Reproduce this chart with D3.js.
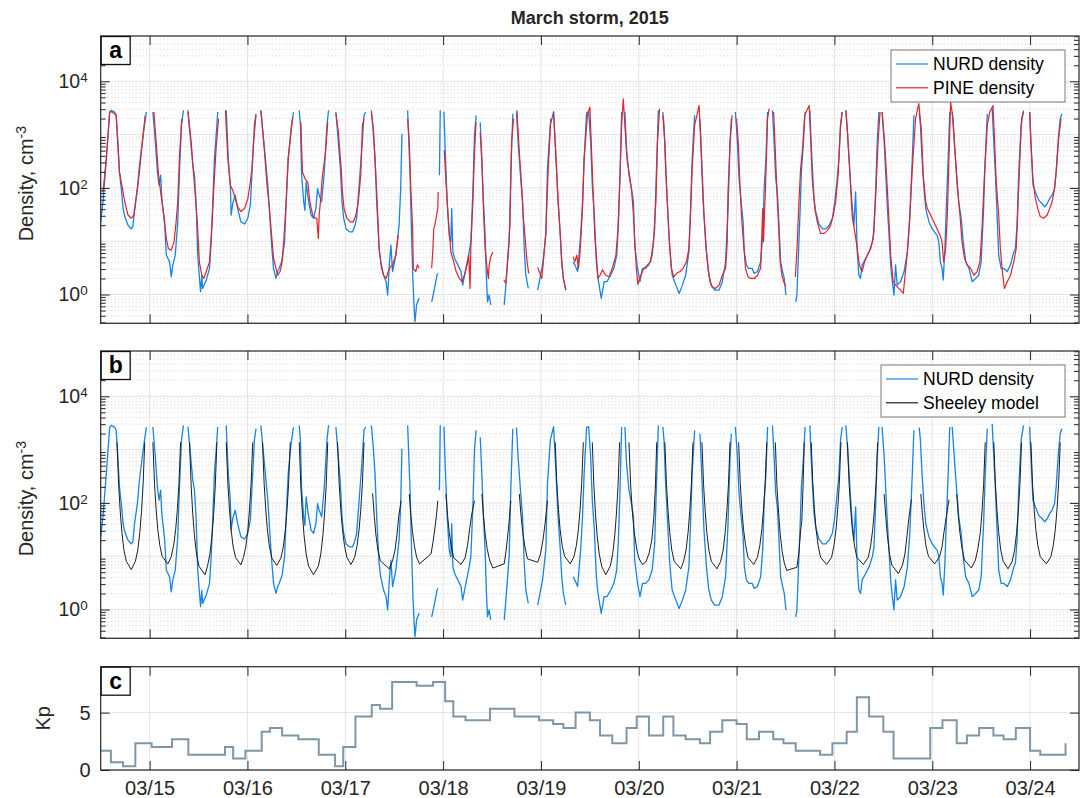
<!DOCTYPE html>
<html>
<head>
<meta charset="utf-8">
<script src="https://cdn.jsdelivr.net/npm/d3@7"></script>
<style>
  body { margin: 0; background: #fff; }
  text { font-family: "Liberation Sans", Arial, Helvetica, sans-serif; fill: #262626; }
</style>
</head>
<body>
<script>
// Time base: hours counted from 2015-03-14 12:00 UT.
const t0 = Date.UTC(2015, 2, 14, 12);
const spanHours = 240;

// NURD density, [hour, cm^-3]; null marks a data gap.
const nurd = [
  [0.0,23],[0.56,55],[1.38,354],[2.2,2650],[2.6,2850],[3.4,2650],[3.8,2300],[4.2,728],[4.6,200],[5.05,97],[5.5,41],[5.9,29],[6.7,20],[7.5,17],[7.9,19],[8.3,41],[9.0,97],[9.5,266],[10.4,968],[11.2,2650],null,
  [12.8,2650],[13.4,728],[13.9,200],[14.3,112],[14.7,173],[15.0,63],[15.7,20],[16.1,5.5],[16.9,4.1],[17.3,2.15],[17.7,3.6],[18.3,5.5],[18.9,23],[19.3,173],[19.8,1490],[20.3,2850],null,
  [21.4,2700],[22.0,839],[22.6,266],[23.0,173],[23.4,55],[23.8,5.5],[24.1,2.7],[24.5,1.13],[24.8,2.3],[25.0,1.3],[25.9,1.87],[26.7,3.1],[27.1,9.7],[27.5,55],[27.9,354],[28.5,1490],[28.7,2650],null,
  [30.8,2850],[31.3,354],[31.8,112],[32.0,31],[32.4,51],[33.0,73],[33.6,41],[34.4,23],[35.3,21],[36.1,27],[36.7,47],[37.3,354],[37.7,1490],[38.1,2470],null,
  [39.3,2850],[39.7,1290],[40.4,354],[41.0,112],[41.5,27],[42.0,7.3],[42.4,3.1],[43.0,2.0],[43.4,2.7],[43.8,3.1],[44.5,4.4],[45.1,9.7],[45.5,55],[46.0,354],[46.7,1290],[47.3,2650],null,
  [48.7,2850],[49.0,1490],[49.3,173],[49.8,55],[50.1,38],[50.4,129],[50.9,63],[51.6,31],[52.2,27],[52.8,41],[53.2,97],[53.6,73],[54.2,55],[54.8,173],[55.5,1490],[55.9,2850],null,
  [57.7,2650],[58.1,1120],[58.8,230],[59.2,55],[59.6,27],[60.2,17],[61.0,15],[61.8,15],[62.4,20],[62.8,27],[63.4,112],[64.0,472],[64.6,2300],[65.0,2650],null,
  [66.4,2850],[66.8,1290],[67.3,354],[67.7,55],[68.3,7.3],[68.7,4.1],[69.4,2.3],[70.0,1.74],[70.4,0.98],[70.8,3.6],[71.2,8.4],[71.6,2.7],[72.4,5.5],[73.2,20],[73.6,97],[73.9,1040],null,
  [75.3,2850],[75.9,173],[76.2,20],[76.6,1.74],[76.9,0.55],[77.1,0.31],[77.5,0.64],[78.1,0.85],null,
  [81.2,0.73],[81.9,1.3],[82.5,2.3],[82.7,2.5],null,
  [83.1,173],[83.3,2850],null,
  [84.2,2700],[84.5,546],[85.0,55],[85.5,13],[85.9,9.7],[86.1,41],[86.4,6.3],[86.8,4.8],[87.6,3.6],[88.4,2.7],[88.8,1.5],[89.6,3.1],[90.4,6.3],[90.8,9.7],[91.3,84],[91.7,968],[92.1,2300],null,
  [93.1,1700],[93.5,354],[93.9,55],[94.3,13],[94.6,2.3],[94.9,0.73],[95.3,0.98],[95.7,0.64],null,
  [99.0,0.64],[99.4,1.5],[100.2,9.7],[100.6,173],[101.1,2470],null,
  [102.0,2600],[102.4,728],[103.1,129],[103.5,55],[103.9,7.3],[104.3,2.3],[104.9,1.3],null,
  [107.2,1.21],[107.6,1.74],[108.4,3.6],[109.2,13],[109.6,230],[110.3,1490],[111.1,2700],[111.7,354],[112.2,55],[112.7,15],[113.1,4.1],[113.5,2.0],[114.1,1.21],null,
  [115.9,4.1],[116.3,3.6],[117.0,2.7],[117.4,6.3],[117.8,15],[118.2,55],[118.6,354],[119.2,2580],[119.7,2700],[120.2,728],[120.6,112],[121.1,31],[121.6,4.1],[122.0,2.0],[122.4,1.3],[122.8,0.85],[123.5,1.74],[124.2,1.74],[125.1,2.3],[125.9,3.1],[126.6,5.5],[127.0,20],[127.4,173],[127.8,2650],null,
  [128.6,2650],[129.0,546],[129.6,173],[130.2,97],[130.7,55],[131.0,8.4],[131.7,3.1],[132.3,1.74],[132.9,3.1],[133.7,3.1],[134.5,3.6],[135.3,5.5],[135.9,17],[136.3,173],[136.8,2850],null,
  [137.9,2650],[138.2,1490],[138.6,230],[139.0,55],[139.6,7.3],[140.2,2.3],[141.1,1.5],[141.9,1.05],[142.7,1.5],[143.5,2.3],[144.3,6.3],[144.7,41],[145.1,354],[145.7,2300],null,
  [147.0,1990],[147.2,968],[147.6,173],[148.0,31],[148.6,6.3],[149.2,2.3],[149.8,1.5],[150.6,1.21],[151.7,1.21],[152.5,1.74],[153.3,4.1],[153.9,41],[154.4,728],[154.7,1990],null,
  [155.7,2650],[156.2,728],[156.6,150],[157.1,55],[157.6,23],[157.9,6.3],[158.4,3.6],[159.0,3.1],[159.8,3.1],[160.3,2.5],[161.1,2.7],[161.9,4.1],[162.4,13],[162.8,112],[163.2,354],[163.6,2650],null,
  [164.8,2850],[165.2,728],[165.6,150],[166.0,84],[166.4,20],[166.8,4.1],[167.3,2.7],[167.7,2.0],[168.1,0.98],null,
  [170.5,0.73],[170.8,0.98],[171.1,4.1],[171.6,41],[171.9,200],[172.4,728],[172.8,2650],null,
  [174.0,2850],[174.2,968],[174.6,230],[175.0,63],[175.4,36],[176.2,21],[177.1,17],[177.9,17],[178.7,20],[179.5,27],[180.1,55],[180.6,129],[181.1,354],[181.5,1490],[181.9,2650],null,
  [182.8,2850],[183.2,1120],[183.6,354],[184.0,112],[184.4,41],[184.8,20],[185.2,84],[185.6,6.3],[186.0,2.3],[186.4,2.0],[186.8,3.6],[187.7,4.8],[188.5,6.3],[189.3,9.7],[189.7,15],[190.1,84],[190.5,728],[190.9,2650],null,
  [191.7,2650],[192.2,728],[192.6,173],[193.0,41],[193.4,13],[193.8,3.6],[194.2,1.74],[194.6,0.98],[195.0,3.6],[195.4,1.5],[196.2,1.74],[197.1,2.7],[197.9,6.3],[198.5,27],[199.1,354],[199.5,2300],null,
  [200.8,2600],[201.1,1490],[201.5,354],[201.9,112],[202.4,41],[203.2,23],[204.0,17],[204.8,14],[205.2,13],[205.6,9.7],[206.0,4.1],[206.4,3.1],[206.7,1.87],[207.1,7.3],[207.5,55],[207.9,354],[208.3,2650],null,
  [208.9,2650],[209.5,546],[210.0,173],[210.5,55],[211.1,27],[211.6,9.7],[212.2,4.1],[213.0,3.1],[213.8,1.74],[214.6,2.0],[215.4,2.3],[216.0,4.1],[216.6,41],[217.0,354],[217.5,2470],null,
  [218.7,3060],[219.1,728],[219.5,173],[219.9,31],[220.3,5.5],[220.9,3.1],[221.5,3.1],[222.4,2.7],[223.2,3.6],[224.0,6.3],[224.4,7.3],[224.8,20],[225.2,173],[225.8,1490],[226.4,2850],null,
  [227.9,2650],[228.2,728],[228.7,112],[229.3,84],[230.1,59],[230.9,51],[231.6,44],[232.2,51],[232.8,63],[233.4,73],[234.0,97],[234.4,200],[235.0,968],[235.4,1990],[235.8,2470]
];

// PINE density, [hour, cm^-3].
const pine = [
  [0.56,84],[1.38,354],[2.2,2650],[2.6,2700],[3.8,2300],[4.6,200],[5.2,112],[5.9,55],[6.7,31],[7.5,27],[8.2,31],[8.7,63],[9.5,200],[10.4,968],[10.9,2300],null,
  [13.05,2650],[13.6,728],[14.2,173],[14.8,73],[15.5,31],[16.1,11.2],[16.6,7.3],[17.3,6.8],[18.0,9.7],[18.5,23],[18.9,55],[19.3,354],[19.9,1990],null,
  [21.4,2850],[22.2,728],[23.0,112],[23.7,23],[24.2,4.1],[24.8,2.3],[25.3,2.0],[25.9,2.7],[26.7,4.1],[27.3,20],[27.7,84],[28.3,546],[28.9,1990],null,
  [30.6,2850],[31.2,354],[31.8,112],[32.4,90],[33.0,63],[33.6,44],[34.4,36],[35.3,41],[36.1,63],[36.7,129],[37.1,230],[37.5,728],[38.1,2300],null,
  [39.3,2850],[40.0,728],[40.8,112],[41.4,41],[41.8,17],[42.4,4.8],[43.0,3.1],[43.4,2.3],[44.0,2.7],[44.4,3.6],[44.9,9.7],[45.5,55],[46.0,354],[46.7,1120],[47.1,2140],null,
  [49.1,1720],[49.5,200],[50.1,150],[50.8,129],[51.3,55],[52.0,31],[52.6,27],[53.0,27],[53.4,11.2],[53.6,31],[53.9,55],[54.4,173],[55.1,408],[55.7,1720],null,
  [57.7,2470],[58.3,1120],[59.0,230],[59.3,84],[59.7,41],[60.4,27],[61.2,23],[62.0,23],[62.6,31],[63.2,55],[63.8,173],[64.2,1490],[64.6,1990],null,
  [66.4,2650],[66.9,1290],[67.5,173],[67.9,41],[68.3,7.3],[68.9,3.1],[69.4,2.3],[70.0,2.0],[70.8,3.1],[71.6,3.6],[72.4,5.5],[73.0,13],null,
  [75.3,1990],[75.7,728],[76.1,84],[76.5,20],[76.7,3.1],[77.3,2.7],[77.7,3.6],[78.1,3.1],null,
  [81.2,3.1],[81.5,7.3],[81.7,17],[82.0,20],[82.4,31],[82.7,41],[82.8,84],null,
  [84.3,510],[84.7,129],[85.1,41],[85.5,15],[85.9,6.3],[86.6,4.1],[87.2,2.7],[88.0,2.0],[88.6,1.74],[89.2,2.3],[89.9,3.6],[90.3,5.5],[90.6,1.3],[90.8,7.3],[91.3,55],[91.7,472],[92.1,1720],null,
  [93.1,1120],[93.5,307],[93.9,41],[94.3,7.3],[94.8,3.1],[95.1,2.0],[95.3,3.6],[95.7,5.1],[96.2,6.3],null,
  [98.9,1.87],[99.4,1.62],[99.8,4.1],[100.4,20],[100.8,728],[101.3,1990],null,
  [102.1,2850],[102.7,472],[103.3,97],[103.7,27],[104.2,9.7],[104.6,4.1],[105.0,2.5],null,
  [107.2,3.2],[107.6,2.7],[108.2,2.0],[108.6,4.1],[109.2,15],[109.8,230],[110.4,1990],null,
  [111.1,2650],[111.7,354],[112.2,63],[112.7,15],[113.1,4.1],[113.5,2.0],[114.1,1.21],null,
  [115.9,5.1],[116.3,4.1],[116.8,5.5],[117.2,3.1],[117.6,6.3],[118.2,41],[118.6,354],[119.4,2300],[120.0,3290],[120.4,546],[120.9,55],[121.2,13],[121.7,4.1],[122.0,2.0],[122.5,2.3],[123.1,2.9],[123.9,2.3],[124.7,2.15],[125.5,3.1],[126.4,5.5],[126.9,17],[127.4,173],[127.8,1490],[128.2,4710],[128.6,1490],[129.1,354],[129.6,200],[130.2,97],[130.7,31],[131.0,11.2],[131.4,3.1],[131.8,1.55],[132.5,2.3],[133.3,3.1],[134.1,3.6],[134.9,4.1],[135.6,9.7],[136.2,55],[136.6,728],[137.1,3060],null,
  [137.9,2300],[138.4,728],[138.8,112],[139.4,13],[140.0,3.1],[140.6,2.15],[141.3,2.5],[142.1,2.7],[142.9,3.1],[143.7,4.1],[144.3,7.3],[144.7,31],[145.1,230],[145.7,1490],[146.8,3530],[147.2,728],[147.8,55],[148.4,9.7],[149.0,3.1],[149.5,1.74],[150.0,1.4],[150.8,1.3],[151.7,1.5],[152.5,2.3],[153.3,3.1],[153.7,9.7],[153.9,84],[154.4,728],[154.9,2300],null,
  [156.0,1990],[156.4,728],[156.8,129],[157.2,31],[157.8,7.3],[158.2,3.1],[158.8,2.15],[159.4,2.0],[160.3,2.0],[161.1,2.3],[161.9,3.1],[162.4,41],[162.6,9.7],[163.2,173],[163.6,1990],[164.0,3060],null,
  [165.1,2650],[165.4,728],[165.9,84],[166.3,20],[166.7,4.1],[167.1,2.3],[167.7,1.62],[168.1,1.4],null,
  [170.4,2.15],[170.5,2.7],[170.9,9.7],[171.3,55],[171.7,230],[172.2,546],[172.7,2300],[173.8,3530],[174.2,728],[174.6,129],[175.2,41],[175.8,23],[176.6,14],[177.5,14],[178.3,16],[179.1,20],[179.7,31],[180.3,55],[180.9,173],[181.5,1490],[181.9,2650],null,
  [182.8,2850],[183.2,1120],[183.8,173],[184.4,27],[185.0,15],[185.6,7.3],[186.0,4.1],[186.4,3.1],[186.8,2.7],[187.4,4.1],[188.1,5.5],[188.9,7.3],[189.5,11.2],[190.1,63],[190.7,728],[191.2,2650],null,
  [191.7,2650],[192.3,728],[192.8,173],[193.4,23],[193.8,5.5],[194.4,1.74],[195.0,1.5],[195.8,1.3],[196.9,1.05],[197.9,6.3],[198.5,31],[199.1,230],[199.9,1990],[200.7,3800],[201.3,1290],[201.8,173],[202.4,55],[202.8,41],[203.6,31],[204.4,23],[205.2,17],[205.9,13],[206.4,9.7],[206.8,4.1],[207.3,7.3],[207.7,31],[208.1,354],[208.5,4080],[209.1,1990],[209.7,354],[210.1,112],[210.8,31],[211.3,9.7],[211.9,4.8],[212.6,3.6],[213.4,3.1],[214.2,2.3],[215.0,2.7],[215.7,4.1],[216.2,17],[216.8,173],[217.5,1490],[218.1,2650],[218.9,3530],[219.3,728],[219.7,129],[220.3,31],[220.7,7.3],[221.3,2.3],[221.7,1.3],[222.4,1.74],[223.2,2.3],[224.0,4.1],[224.6,7.3],[225.0,41],[225.5,354],[225.9,1990],[226.4,2650],null,
  [227.9,2650],[228.2,728],[228.7,150],[229.3,63],[229.9,41],[230.5,29],[231.3,27],[232.2,31],[232.8,41],[233.4,55],[234.0,97],[234.4,200],[235.0,839],[235.6,1990]
];

// Sheeley model density along the orbit, [hour, cm^-3]; one segment per orbit.
const sheeley = [
  [4.0,1370],[4.4,220],[4.8,68],[5.2,28],[5.7,13],[6.3,8],[7.5,5.6],[8.5,8],[9.1,13],[9.6,28],[10.0,68],[10.4,220],[10.8,1370],null,
  [12.8,1370],[13.2,230],[13.6,75],[14.0,32],[14.5,16],[15.1,9.8],[16.5,7.2],[17.3,9.8],[17.9,16],[18.4,32],[18.8,75],[19.2,230],[19.6,1370],null,
  [21.8,1370],[22.2,200],[22.6,60],[23.0,24],[23.5,11],[24.1,6.5],[25.6,4.5],[26.2,6.5],[26.8,11],[27.3,24],[27.7,60],[28.1,200],[28.5,1370],null,
  [30.8,1370],[31.2,230],[31.6,74],[32.0,31],[32.5,15],[33.1,9.4],[34.4,6.9],[35.0,9.4],[35.6,15],[36.1,31],[36.5,74],[36.9,230],[37.3,1370],null,
  [39.7,1370],[40.1,230],[40.5,73],[40.9,31],[41.4,15],[42.0,9.2],[43.2,6.7],[44.2,9.2],[44.8,15],[45.3,31],[45.7,73],[46.1,230],[46.5,1370],null,
  [48.7,1370],[49.1,200],[49.5,60],[49.9,24],[50.4,11],[51.0,6.5],[52.2,4.5],[53.4,6.5],[54.0,11],[54.5,24],[54.9,60],[55.3,200],[55.7,1370],null,
  [58.1,1370],[58.5,230],[58.9,75],[59.3,32],[59.8,16],[60.4,9.5],[61.4,7.0],[62.3,9.5],[62.9,16],[63.4,32],[63.8,75],[64.2,230],[64.6,1370],null,
  [66.7,151],[67.1,58],[67.5,26],[68.0,13],[68.6,8.2],[70.8,5.8],[71.6,8.2],[72.2,13],[72.7,26],[73.1,55],[73.7,110],null,
  [75.7,147],[76.1,58],[76.5,28],[77.0,15],[77.5,9.6],[78.2,7.2],[81.05,11.1],[81.5,18],[82.0,34],[82.4,62],[82.7,110],null,
  [84.7,147],[85.1,58],[85.5,28],[86.0,15],[86.6,9.4],[88.4,7.0],[89.4,9.4],[90.0,16],[90.5,32],[91.0,60],[91.7,110],null,
  [93.5,147],[93.9,58],[94.3,27],[94.8,14],[95.4,8.5],[96.2,6.0],[99.0,7.2],[99.4,12],[99.8,22],[100.2,45],[100.6,110],null,
  [102.7,147],[103.1,60],[103.5,30],[104.0,16],[104.7,8.9],[107.2,7.7],[107.9,11],[108.5,20],[109.0,40],[109.6,110],null,
  [111.5,1370],[111.9,230],[112.3,75],[112.7,32],[113.2,16],[113.8,10],[115.2,7.2],[116.1,9.8],[116.7,16],[117.2,32],[117.6,75],[118.0,230],[118.4,1370],null,
  [120.6,1370],[121.0,200],[121.4,60],[121.8,24],[122.3,11],[122.9,6.5],[123.9,4.5],[125.0,6.5],[125.6,11],[126.1,24],[126.5,60],[126.9,200],[127.3,1370],null,
  [129.6,1370],[130.0,226],[130.4,72],[130.85,30],[131.3,17],[131.7,11.4],[132.1,8.9],[132.9,7.0],[133.7,7.7],[134.5,11.1],[135.2,20],[135.7,54],[136.1,226],[136.4,1370],null,
  [138.4,1370],[138.8,220],[139.2,68],[139.6,28],[140.1,13],[140.7,8],[142.3,5.8],[143.0,8],[143.6,13],[144.1,28],[144.5,68],[144.9,220],[145.3,1370],null,
  [147.5,1370],[147.9,220],[148.3,68],[148.7,28],[149.2,13],[149.8,8],[151.2,5.8],[152.1,8],[152.7,13],[153.2,28],[153.6,68],[154.0,220],[154.4,1370],null,
  [156.5,1370],[156.9,230],[157.3,75],[157.7,32],[158.2,16],[158.8,9.5],[160.2,7.0],[161.1,9.5],[161.7,16],[162.2,32],[162.6,75],[163.0,230],[163.4,1370],null,
  [165.5,1370],[165.9,210],[166.3,65],[166.7,26],[167.2,12],[167.7,7.5],[168.3,5.4],[170.8,6.2],[171.3,12],[171.7,30],[172.0,47],[172.3,200],[172.6,1370],null,
  [174.3,1370],[174.7,230],[175.1,75],[175.5,32],[176.0,16],[176.6,9.5],[178.1,7.0],[179.3,9.5],[179.9,16],[180.4,32],[180.8,75],[181.2,230],[181.6,1370],null,
  [183.2,1370],[183.6,230],[184.0,75],[184.4,32],[184.9,16],[185.5,9.5],[187.1,7.0],[188.3,9.5],[188.9,16],[189.4,32],[189.8,75],[190.2,230],[190.6,1370],null,
  [192.2,147],[192.6,55],[193.0,24],[193.5,11],[194.1,6.8],[195.7,4.7],[196.7,6.8],[197.3,11],[197.8,24],[198.3,55],[198.9,117],null,
  [201.2,147],[201.6,58],[202.0,29],[202.5,15],[203.1,9.8],[204.6,7.2],[205.8,9.8],[206.4,15],[206.9,29],[207.5,58],[208.1,115],null,
  [210.0,147],[210.4,56],[210.8,27],[211.3,14],[211.9,8.5],[213.6,6.0],[214.6,8.5],[215.2,14],[215.8,28],[216.2,68],[216.6,220],[217.0,1370],null,
  [219.1,1370],[219.5,220],[219.9,68],[220.3,28],[220.8,13],[221.4,8],[222.6,5.8],[223.6,8],[224.2,13],[224.7,28],[225.1,68],[225.5,220],[225.9,1370],null,
  [228.2,1370],[228.6,230],[229.0,75],[229.4,32],[229.9,16],[230.5,9.8],[232.0,7.2],[233.1,9.8],[233.7,16],[234.2,32],[234.6,75],[235.0,230],[235.4,1370]
];

// Kp index: hour where each level starts, and the level.
const kpHours  = [0,2.5,5.5,8.5,12.5,17.5,21.5,30.5,32.5,35.5,39.5,41.5,44.5,48.5,53.5,57.5,59.5,62.5,66.5,68.5,71.5,77.5,81.5,84.5,86.5,89.5,95.5,101.5,107.5,111,113.5,116.5,120,122.5,125.5,129,131.5,134.5,138,140.5,143.5,147,149.5,152.5,156,158.5,161.5,165,167.5,170.5,176.5,179.5,183,185.5,188.5,192,194.5,203.5,206.5,210,212.5,215.5,219,221.5,224.5,228,230.5,236.7];
const kpValues = [1.67,0.67,0.33,2.33,2.0,2.67,1.33,2.0,1.0,1.67,3.33,3.67,3.0,2.67,1.33,0.33,2.0,4.67,5.67,5.33,7.67,7.33,7.67,6.0,4.67,4.33,5.33,4.67,4.33,4.0,3.67,5.0,4.33,3.0,2.33,3.67,4.67,3.0,4.67,3.0,2.67,2.33,3.33,4.33,4.0,2.67,3.33,2.67,2.33,1.67,1.33,2.33,3.33,6.33,4.67,3.33,1.0,3.67,4.33,2.33,3.0,3.67,3.0,2.67,3.67,1.67,1.33,2.33];

const densityTicks = [1, 100, 10000];
const kpTicks = [0, 5];
const title = "March storm, 2015";
const legendA = ["NURD density", "PINE density"];
const legendB = ["NURD density", "Sheeley model"];

// Colours.
const cNurd = "#1683e6", cPine = "#e0242a", cModel = "#1e1e1e", cKp = "#7e97a7";
const cAxis = "#262626", cGrid = "#e3e3e3", cMinor = "#d2d2d2";

const W = 1086, H = 798;
const left = 100.7, right = 1079;
const panels = {
  a: { top: 36,    bottom: 323.3 },
  b: { top: 351,   bottom: 638.3 },
  c: { top: 666.7, bottom: 770 }
};
const font = "'Liberation Sans', Arial, Helvetica, sans-serif";

const svg = d3.select("body").append("svg").attr("width", W).attr("height", H);
const toDate = h => new Date(t0 + h * 3600e3);

const x = d3.scaleUtc().domain([toDate(0), toDate(spanHours)]).range([left, right]);
const days = d3.utcDay.range(toDate(0), toDate(spanHours + 0.01)).filter(d => d > toDate(0));

// Title.
svg.append("text")
  .attr("x", (left + right) / 2).attr("y", 24)
  .attr("text-anchor", "middle")
  .style("font-size", "18px").style("font-weight", "bold")
  .text(title);

function clip(id, p) {
  svg.append("clipPath").attr("id", id)
    .append("rect").attr("x", left).attr("y", p.top)
    .attr("width", right - left).attr("height", p.bottom - p.top);
}

function panelLetter(p, letter) {
  const g = svg.append("g");
  g.append("rect").attr("x", left + 0.5).attr("y", p.top + 0.5)
    .attr("width", 29).attr("height", 28)
    .attr("fill", "#fff").attr("stroke", "#111").attr("stroke-width", 1.3);
  g.append("text").attr("x", left + 15).attr("y", p.top + 22)
    .attr("text-anchor", "middle")
    .style("font-size", "23px").style("font-weight", "bold").style("fill", "#000")
    .text(letter);
}

function xGridAndTicks(p, labels) {
  svg.append("g").selectAll("line").data(days).join("line")
    .attr("x1", d => x(d)).attr("x2", d => x(d))
    .attr("y1", p.top).attr("y2", p.bottom)
    .attr("stroke", cGrid).attr("stroke-width", 1);

  const bottom = svg.append("g").attr("transform", `translate(0,${p.bottom})`)
    .call(d3.axisBottom(x).tickValues(days).tickSize(-9).tickPadding(11)
      .tickFormat(labels ? d3.utcFormat("%m/%d") : () => ""));
  bottom.select(".domain").remove();
  bottom.selectAll("line").attr("stroke", cAxis);
  bottom.selectAll("text").style("font-size", "20px").style("fill", cAxis).style("font-family", font);

  const top = svg.append("g").attr("transform", `translate(0,${p.top})`)
    .call(d3.axisTop(x).tickValues(days).tickSize(-9).tickFormat(() => ""));
  top.select(".domain").remove();
  top.selectAll("line").attr("stroke", cAxis);
}

function logPanel(p, key, series, legendNames) {
  const y = d3.scaleLog().domain([Math.pow(10, -0.54), Math.pow(10, 4.85)]).range([p.bottom, p.top]);
  const [lo, hi] = y.domain();
  const minors = [], majors = [];
  for (let k = -1; k <= 4; k++) {
    for (let m = 1; m <= 9; m++) {
      const v = m * Math.pow(10, k);
      if (v < lo || v > hi) continue;
      (m === 1 ? majors : minors).push(v);
    }
  }

  // Grid.
  svg.append("g").selectAll("line").data(minors).join("line")
    .attr("x1", left).attr("x2", right)
    .attr("y1", d => y(d)).attr("y2", d => y(d))
    .attr("stroke", cMinor).attr("stroke-width", 1).attr("stroke-dasharray", "1,2.5");
  svg.append("g").selectAll("line").data(majors).join("line")
    .attr("x1", left).attr("x2", right)
    .attr("y1", d => y(d)).attr("y2", d => y(d))
    .attr("stroke", cGrid).attr("stroke-width", 1);
  xGridAndTicks(p, false);

  // Series.
  clip("clip-" + key, p);
  const line = d3.line()
    .defined(d => d !== null)
    .x(d => x(toDate(d[0])))
    .y(d => y(d[1]));
  const g = svg.append("g").attr("clip-path", `url(#clip-${key})`);
  series.forEach(s => {
    g.append("path").datum(s.data)
      .attr("d", line)
      .attr("fill", "none")
      .attr("stroke", s.color)
      .attr("stroke-width", s.width)
      .attr("stroke-linejoin", "round");
  });

  // Y axes, left with labels and right without.
  const yl = svg.append("g").attr("transform", `translate(${left},0)`)
    .call(d3.axisLeft(y).tickValues(densityTicks).tickSize(-9).tickPadding(13).tickFormat(() => ""));
  yl.select(".domain").remove();
  yl.selectAll("line").attr("stroke", cAxis);
  yl.selectAll(".tick text").each(function(d) {
    const t = d3.select(this).style("font-size", "19.5px").style("fill", cAxis).style("font-family", font);
    t.append("tspan").text("10");
    t.append("tspan").attr("dy", "-0.45em").style("font-size", "13.5px").text(Math.round(Math.log10(d)));
  });
  const ylm = svg.append("g").attr("transform", `translate(${left},0)`)
    .call(d3.axisLeft(y).tickValues(minors).tickSize(-5).tickFormat(() => ""));
  ylm.select(".domain").remove();
  ylm.selectAll("line").attr("stroke", cAxis);

  const yr = svg.append("g").attr("transform", `translate(${right},0)`)
    .call(d3.axisRight(y).tickValues(densityTicks).tickSize(-9).tickFormat(() => ""));
  yr.select(".domain").remove();
  yr.selectAll("line").attr("stroke", cAxis);
  const yrm = svg.append("g").attr("transform", `translate(${right},0)`)
    .call(d3.axisRight(y).tickValues(minors).tickSize(-5).tickFormat(() => ""));
  yrm.select(".domain").remove();
  yrm.selectAll("line").attr("stroke", cAxis);

  // Box.
  svg.append("rect").attr("x", left).attr("y", p.top)
    .attr("width", right - left).attr("height", p.bottom - p.top)
    .attr("fill", "none").attr("stroke", cAxis).attr("stroke-width", 1.2);

  // Y label.
  const lab = svg.append("text")
    .attr("transform", `translate(33,${(p.top + p.bottom) / 2 + 4}) rotate(-90)`)
    .attr("text-anchor", "middle")
    .style("font-size", "20px");
  lab.append("tspan").text("Density, cm");
  lab.append("tspan").attr("dy", "-0.5em").style("font-size", "14px").text("-3");

  // Legend.
  const lw = legendNames === legendA ? 174 : 184;
  const lg = svg.append("g").attr("transform", `translate(${1065 - lw},${p.top + 14})`);
  lg.append("rect").attr("width", lw).attr("height", 52)
    .attr("fill", "#fff").attr("stroke", "#7a7a7a").attr("stroke-width", 1);
  legendNames.forEach((name, i) => {
    const yy = 14 + i * 23.8;
    lg.append("line").attr("x1", 5).attr("x2", 37).attr("y1", yy).attr("y2", yy)
      .attr("stroke", series[i].color).attr("stroke-width", 1.2);
    lg.append("text").attr("x", 42).attr("y", yy + 6)
      .style("font-size", "17.5px").style("fill", "#000").text(name);
  });

  panelLetter(p, key);
}

logPanel(panels.a, "a", [
  { data: nurd, color: cNurd, width: 1.3 },
  { data: pine, color: cPine, width: 1.2 }
], legendA);

logPanel(panels.b, "b", [
  { data: nurd, color: cNurd, width: 1.3 },
  { data: sheeley, color: cModel, width: 1.0 }
], legendB);

// Panel c: Kp.
(function () {
  const p = panels.c;
  const y = d3.scaleLinear().domain([0, 9]).range([p.bottom, p.top]);
  svg.append("g").selectAll("line").data(kpTicks).join("line")
    .attr("x1", left).attr("x2", right)
    .attr("y1", d => y(d)).attr("y2", d => y(d))
    .attr("stroke", cGrid).attr("stroke-width", 1);
  xGridAndTicks(p, true);

  clip("clip-c", p);
  const kp = kpHours.map((h, i) => [h, kpValues[i]]);
  svg.append("g").attr("clip-path", "url(#clip-c)")
    .append("path").datum(kp)
    .attr("d", d3.line().curve(d3.curveStepAfter)
      .x(d => x(toDate(d[0]))).y(d => y(d[1])))
    .attr("fill", "none").attr("stroke", cKp).attr("stroke-width", 2);

  const yl = svg.append("g").attr("transform", `translate(${left},0)`)
    .call(d3.axisLeft(y).tickValues(kpTicks).tickSize(-9).tickPadding(10));
  yl.select(".domain").remove();
  yl.selectAll("line").attr("stroke", cAxis);
  yl.selectAll("text").style("font-size", "20px").style("fill", cAxis).style("font-family", font);
  const yr = svg.append("g").attr("transform", `translate(${right},0)`)
    .call(d3.axisRight(y).tickValues(kpTicks).tickSize(-9).tickFormat(() => ""));
  yr.select(".domain").remove();
  yr.selectAll("line").attr("stroke", cAxis);

  svg.append("rect").attr("x", left).attr("y", p.top)
    .attr("width", right - left).attr("height", p.bottom - p.top)
    .attr("fill", "none").attr("stroke", cAxis).attr("stroke-width", 1.2);

  svg.append("text")
    .attr("transform", `translate(50,${(p.top + p.bottom) / 2}) rotate(-90)`)
    .attr("text-anchor", "middle")
    .style("font-size", "20px").text("Kp");

  panelLetter(p, "c");
})();
</script>
</body>
</html>
